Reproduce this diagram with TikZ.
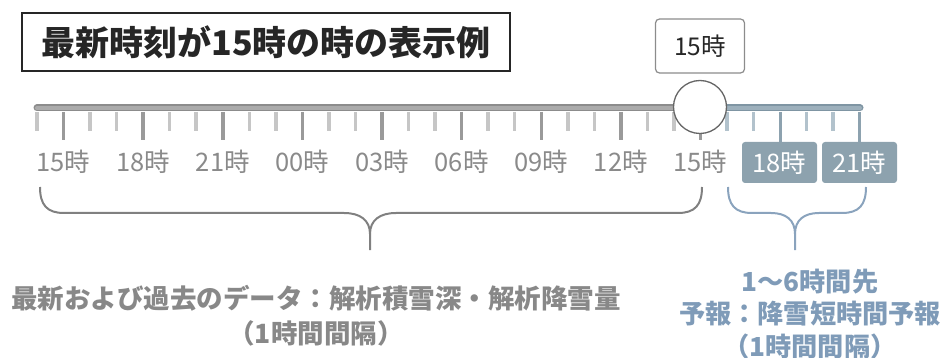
\documentclass[tikz,border=0pt]{standalone}
\usepackage{fontspec}
\setmainfont{Noto Sans CJK JP}
\definecolor{gtrack}{HTML}{8C8C8C}
\definecolor{gtrackin}{HTML}{ABABAB}
\definecolor{gmaj}{HTML}{9A9A9A}
\definecolor{gmin}{HTML}{C6C6C6}
\definecolor{gtext}{HTML}{8A8A8A}
\definecolor{btrack}{HTML}{7F95A3}
\definecolor{btrackin}{HTML}{9DB0BC}
\definecolor{bmaj}{HTML}{8DA2AF}
\definecolor{bmin}{HTML}{B2C2CC}
\definecolor{bbox}{HTML}{8DA2AE}
\definecolor{bbrace}{HTML}{8AA3BD}
\definecolor{btext}{HTML}{7F9BB8}
\definecolor{gbrace}{HTML}{808080}
\definecolor{gbottom}{HTML}{888888}
\tikzset{
  titlebox/.style={draw=black!85, line width=1.5pt, minimum width=488pt, minimum height=58pt, inner sep=0pt, font=\fontsize{34}{40}\selectfont\bfseries, text=black!85},
  nowbox/.style={draw=gray!90, line width=1.2pt, rounded corners=4pt, fill=white, minimum width=89pt, minimum height=54pt, inner sep=0pt, font=\fontsize{24.5}{28}\selectfont, text=black!85},
  pasttrack/.style={draw=gtrack, double=gtrackin, double distance=4pt, line width=1.5pt, line cap=round},
  futtrack/.style={draw=btrack, double=btrackin, double distance=4pt, line width=1.5pt, line cap=round},
  majortick/.style={draw=gmaj, line width=3.5pt},
  minortick/.style={draw=gmin, line width=3.5pt},
  fmajortick/.style={draw=bmaj, line width=3pt},
  fminortick/.style={draw=bmin, line width=3.5pt},
  tlabel/.style={inner sep=0pt, text=gtext, font=\fontsize{25.5}{30}\selectfont},
  futbox/.style={fill=bbox, rounded corners=3pt, minimum width=75pt, minimum height=41pt, inner sep=0pt, text=white, font=\fontsize{25.5}{30}\selectfont},
  knob/.style={circle, draw=black!60, line width=1.3pt, fill=white, minimum size=53pt, inner sep=0pt},
  gbr/.style={draw=gbrace, line width=2pt},
  bbr/.style={draw=bbrace, line width=2pt},
  gnote/.style={align=center, text=gbottom, inner sep=0pt, font=\fontsize{26.5}{35}\selectfont\bfseries},
  bnote/.style={align=center, text=btext, inner sep=0pt, font=\fontsize{26.2}{32.5}\selectfont\bfseries}
}
\begin{document}
\begin{tikzpicture}[x=1pt,y=-1pt]
\useasboundingbox (0,0) rectangle (945,358);
% title
\node[titlebox] (title) at (266,42) {最新時刻が15時の時の表示例};
% tick coordinates
\foreach \i in {0,...,31} \coordinate (t\i) at ({37+26.54*\i},112);
\coordinate (ts) at (37,108);
\coordinate (tk) at (700,108);
\coordinate (te) at (860,108);
% track
\draw[futtrack] (tk) -- (te);
\draw[pasttrack] (ts) -- (tk);
% past ticks
\foreach \i in {0,...,25}{
  \pgfmathtruncatemacro\m{mod(\i+2,3)}
  \ifnum\m=0
    \draw[majortick] (t\i) -- ++(0,28);
  \else
    \draw[minortick] (t\i) -- ++(0,19);
  \fi
}
% future minor ticks
\foreach \i in {26,27,29,30} \draw[fminortick] (t\i) -- ++(0,19);
% past labels
\foreach \i/\lab in {1/15,4/18,7/21,10/00,13/03,16/06,19/09,22/12,25/15}
  \node[tlabel] (l\i) at ({37+26.54*\i},162) {\lab{}時};
% future boxes
\node[futbox] (b18) at (779.5,162.5) {18時};
\node[futbox] (b21) at (859.5,162.5) {21時};
\draw[fmajortick] (t28) -- (t28 |- b18.north);
\draw[fmajortick] (t31) -- (t31 |- b21.north);
% knob and current label
\node[knob] (knob) at (700,107) {};
\node[nowbox] (now) at (700,46) {15時};
% big brace
\coordinate (g1) at (40,187);
\coordinate (g2) at (702,187);
\coordinate (gm) at (370,234);
\coordinate (gt) at (370,250);
\draw[gbr] (g1) .. controls (40,205) and (47,213) .. (64,213) -- (344,213)
  .. controls (360,213) and (370,220) .. (gm) -- (gt);
\draw[gbr] (gm) .. controls (370,220) and (380,213) .. (396,213) -- (678,213)
  .. controls (695,213) and (702,205) .. (g2);
% small brace
\coordinate (s1) at (728,187);
\coordinate (s2) at (866,187);
\coordinate (sm) at (795,234);
\coordinate (st) at (795,250);
\draw[bbr] (s1) .. controls (728,205) and (735,213) .. (752,213) -- (771,213)
  .. controls (786,213) and (795,220) .. (sm) -- (st);
\draw[bbr] (sm) .. controls (795,220) and (804,213) .. (819,213) -- (842,213)
  .. controls (859,213) and (866,205) .. (s2);
% notes
\node[gnote] (pastnote) at (316,315.5) {最新および過去のデータ：解析積雪深・解析降雪量\\（1時間間隔）};
\node[bnote] (futnote) at (810,314) {1～6時間先\\予報：降雪短時間予報\\（1時間間隔）};
\end{tikzpicture}
\end{document}
